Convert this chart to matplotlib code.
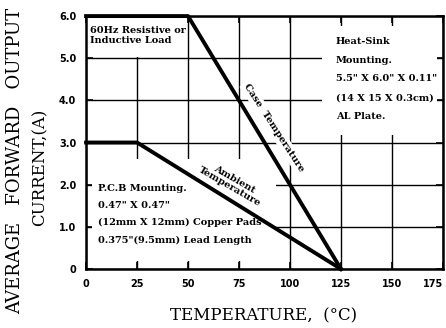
import matplotlib.pyplot as plt
from matplotlib.patches import Rectangle

# derating curves
case_temp = [0, 50, 125]
case_current = [6.0, 6.0, 0.0]
amb_temp = [0, 25, 125]
amb_current = [3.0, 3.0, 0.0]

x_ticks = [0, 25, 50, 75, 100, 125, 150, 175]
y_ticks = [0, 1, 2, 3, 4, 5, 6]
y_tick_labels = ['0', '1.0', '2.0', '3.0', '4.0', '5.0', '6.0']

fig = plt.figure(figsize=(4.46, 3.28), dpi=100)
ax = fig.add_axes([0.193, 0.180, 0.800, 0.771])

ax.set_xlim(0, 175)
ax.set_ylim(0, 6)
ax.set_xticks(x_ticks)
ax.set_yticks(y_ticks)
ax.set_yticklabels(y_tick_labels)
ax.tick_params(direction='in', length=5, width=1.2, top=True, right=True, pad=7,
               labelsize=7)
for lab in ax.get_xticklabels() + ax.get_yticklabels():
    lab.set_fontweight('bold')
ax.get_xticklabels()[-1].set_horizontalalignment('right')
ax.grid(True, color='black', linewidth=1.0)
ax.set_axisbelow(True)
for sp in ax.spines.values():
    sp.set_linewidth(1.8)

# white areas behind the notes
for (x0, y0, w, h) in [(0.5, 5.04, 48, 0.94), (115.7, 3.18, 56.3, 2.58), (3, 0.2, 90, 2.42)]:
    ax.add_patch(Rectangle((x0, y0), w, h, facecolor='white', edgecolor='none', zorder=1.5))

ax.plot(case_temp, case_current, color='black', linewidth=2.8, zorder=3, clip_on=False)
ax.plot(amb_temp, amb_current, color='black', linewidth=2.8, zorder=3, clip_on=False)

note = dict(family='DejaVu Serif', fontweight='bold', fontsize=7.0, zorder=4)
ax.text(2, 5.76, '60Hz Resistive or\nInductive Load', va='top', ha='left', linespacing=1.05, **note)
ax.text(122.5, 5.50, 'Heat-Sink\nMounting.\n5.5" X 6.0" X 0.11"\n(14 X 15 X 0.3cm)\nAL Plate.',
        va='top', ha='left', linespacing=2.38, **note)
ax.text(5.9, 2.02, 'P.C.B Mounting.\n0.47" X 0.47"\n(12mm X 12mm) Copper Pads\n0.375"(9.5mm) Lead Length',
        va='top', ha='left', linespacing=2.15, **note)
ax.text(92.2, 3.34, 'Case  Temperature', rotation=-57, ha='center', va='center',
        rotation_mode='anchor', bbox=dict(facecolor='white', edgecolor='none', pad=1.5), **note)
ax.text(71.6, 2.04, 'Ambient\nTemperature', rotation=-30, ha='center', va='center',
        rotation_mode='anchor', linespacing=0.95,
        bbox=dict(facecolor='white', edgecolor='none', pad=1.5), **note)

lab_font = dict(family='DejaVu Serif')
fig.text(0.592, 0.038, 'TEMPERATURE,  (°C)', ha='center', va='center', fontsize=12, **lab_font)
fig.text(0.034, 0.51, 'AVERAGE   FORWARD   OUTPUT', rotation=90, ha='center', va='center',
         fontsize=13, **lab_font)
fig.text(0.090, 0.49, 'CURRENT,(A)', rotation=90, ha='center', va='center', fontsize=12, **lab_font)

fig.savefig('out.png', dpi=100)
